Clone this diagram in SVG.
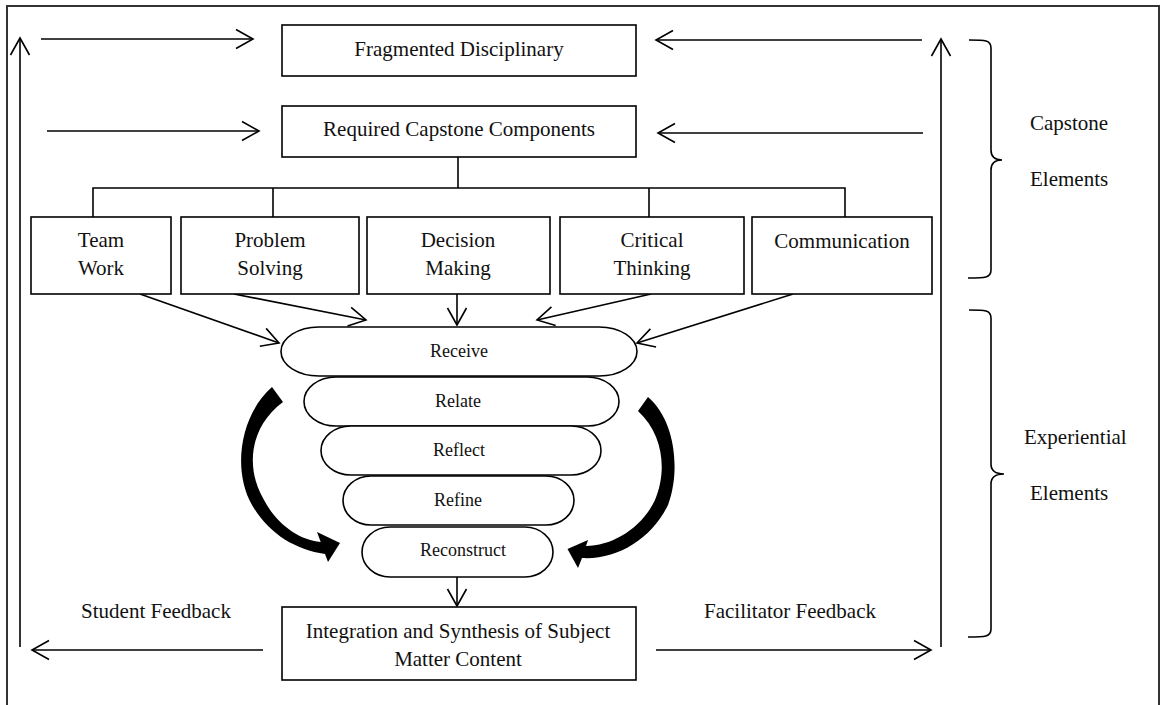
<svg xmlns="http://www.w3.org/2000/svg" width="1165" height="705" viewBox="0 0 1165 705">
  <defs>
    <style>
      .box { fill: #fff; stroke: #000; stroke-width: 1.6; }
      .pill { fill: #fff; stroke: #000; stroke-width: 1.6; }
      .ln { fill: none; stroke: #000; stroke-width: 1.6; }
      .arr { fill: none; stroke: #000; stroke-width: 1.6; marker-end: url(#open); }
      .t { font-family: "Liberation Serif", "Times New Roman", serif; font-size: 21px; fill: #111; text-anchor: middle; }
      .s { font-family: "Liberation Serif", "Times New Roman", serif; font-size: 18px; fill: #111; text-anchor: middle; }
      .side { font-family: "Liberation Serif", "Times New Roman", serif; font-size: 21px; fill: #111; }
      .bold { fill: #000; stroke: none; }
    </style>
    <marker id="open" viewBox="-20 -12 22 24" refX="0" refY="0" markerWidth="22" markerHeight="24" markerUnits="userSpaceOnUse" orient="auto">
      <path d="M-17,-9.5 L0,0 L-17,9.5" fill="none" stroke="#000" stroke-width="1.6"/>
    </marker>
  </defs>

  <rect width="1165" height="705" fill="#fff"/>
  <!-- page frame -->
  <rect x="7" y="6" width="1152" height="740" fill="none" stroke="#333" stroke-width="2"/>

  <!-- connectors -->
  <g id="connectors">
    <!-- inputs into the top two boxes -->
    <line class="arr" x1="41" y1="39" x2="253" y2="39"/>
    <line class="arr" x1="922" y1="40" x2="656" y2="40"/>
    <line class="arr" x1="47" y1="131" x2="259" y2="131"/>
    <line class="arr" x1="923" y1="133" x2="658" y2="133"/>
    <!-- tree from required components to the five skills -->
    <polyline class="ln" points="458,157 458,188"/>
    <polyline class="ln" points="93,217 93,188 845,188 845,217"/>
    <line class="ln" x1="273" y1="188" x2="273" y2="217"/>
    <line class="ln" x1="649" y1="188" x2="649" y2="217"/>
    <!-- skills into Receive -->
    <line class="arr" x1="140" y1="294" x2="279" y2="343"/>
    <line class="arr" x1="234" y1="294" x2="366" y2="320"/>
    <line class="arr" x1="457" y1="294" x2="457" y2="325"/>
    <line class="arr" x1="651" y1="294" x2="537" y2="320"/>
    <line class="arr" x1="793" y1="294" x2="637" y2="343"/>
    <!-- Reconstruct into the integration box -->
    <line class="arr" x1="457" y1="577" x2="457" y2="606"/>
    <!-- feedback loops -->
    <line class="arr" x1="263" y1="650" x2="32" y2="650"/>
    <line class="arr" x1="20" y1="647" x2="20" y2="38"/>
    <line class="arr" x1="656" y1="650" x2="931" y2="650"/>
    <line class="arr" x1="941" y1="647" x2="941" y2="39"/>
  </g>

  <!-- top boxes -->
  <g id="fragmented">
    <rect class="box" x="282" y="25" width="354" height="51"/>
    <text class="t" x="459" y="56">Fragmented Disciplinary</text>
  </g>
  <g id="required">
    <rect class="box" x="282" y="106" width="354" height="51"/>
    <text class="t" x="459" y="136">Required Capstone Components</text>
  </g>

  <!-- skill boxes -->
  <g id="teamwork">
    <rect class="box" x="31" y="217" width="140" height="77"/>
    <text class="t" x="101" y="247">Team</text>
    <text class="t" x="101" y="275">Work</text>
  </g>
  <g id="problem-solving">
    <rect class="box" x="181" y="217" width="178" height="77"/>
    <text class="t" x="270" y="247">Problem</text>
    <text class="t" x="270" y="275">Solving</text>
  </g>
  <g id="decision-making">
    <rect class="box" x="367" y="217" width="183" height="77"/>
    <text class="t" x="458" y="247">Decision</text>
    <text class="t" x="458" y="275">Making</text>
  </g>
  <g id="critical-thinking">
    <rect class="box" x="560" y="217" width="184" height="77"/>
    <text class="t" x="652" y="247">Critical</text>
    <text class="t" x="652" y="275">Thinking</text>
  </g>
  <g id="communication">
    <rect class="box" x="752" y="217" width="180" height="77"/>
    <text class="t" x="842" y="248">Communication</text>
  </g>

  <!-- stacked process stages -->
  <g id="receive">
    <rect class="pill" x="281" y="327" width="356" height="49" rx="38" ry="24.5"/>
    <text class="s" x="459" y="357">Receive</text>
  </g>
  <g id="relate">
    <rect class="pill" x="304" y="377" width="315" height="49" rx="32" ry="24.5"/>
    <text class="s" x="458" y="407">Relate</text>
  </g>
  <g id="reflect">
    <rect class="pill" x="321" y="426" width="280" height="49" rx="30" ry="24.5"/>
    <text class="s" x="459" y="456">Reflect</text>
  </g>
  <g id="refine">
    <rect class="pill" x="343" y="476" width="231" height="49" rx="28" ry="24.5"/>
    <text class="s" x="458" y="506">Refine</text>
  </g>
  <g id="reconstruct">
    <rect class="pill" x="362" y="527" width="191" height="50" rx="28" ry="25"/>
    <text class="s" x="463" y="556">Reconstruct</text>
  </g>

  <!-- heavy curved cycle arrows -->
  <g id="cycle-left">
    <path class="bold" d="M272,387 C240,415 232,470 252,505 C268,533 295,550 325,554 L328,562 L340,543 L317,532 L320.7,542 C298,540 276,523 264,500 C246,470 248,428 283,402 Z"/>
  </g>
  <g id="cycle-right">
    <path class="bold" d="M648,397 C675,420 681,470 668,505 C652,538 618,560 582,558 L578,568 L567.5,549 L588,540 L586,546 C612,546 642,528 655,500 C667,472 664,435 638,411 Z"/>
  </g>

  <!-- output box -->
  <g id="integration">
    <rect class="box" x="282" y="607" width="354" height="73"/>
    <text class="t" x="458" y="638">Integration and Synthesis of Subject</text>
    <text class="t" x="458" y="666">Matter Content</text>
  </g>

  <!-- feedback labels -->
  <g id="student-feedback">
    <text class="t" x="156" y="618">Student Feedback</text>
  </g>
  <g id="facilitator-feedback">
    <text class="t" x="790" y="618">Facilitator Feedback</text>
  </g>

  <!-- grouping braces with captions -->
  <g id="capstone-elements">
    <path class="ln" d="M969,40 C985,40 991,40 991,48 L991,150 C991,157 995,160 1002,160 C995,160 991,163 991,170 L991,270 C991,278 985,278 968,278"/>
    <text class="side" x="1030" y="130">Capstone</text>
    <text class="side" x="1030" y="186">Elements</text>
  </g>
  <g id="experiential-elements">
    <path class="ln" d="M969,310 C985,310 991,310 991,318 L991,464 C991,471 995,474 1004,474 C995,474 991,477 991,484 L991,629 C991,637 985,637 968,637"/>
    <text class="side" x="1024" y="444">Experiential</text>
    <text class="side" x="1030" y="500">Elements</text>
  </g>
</svg>
